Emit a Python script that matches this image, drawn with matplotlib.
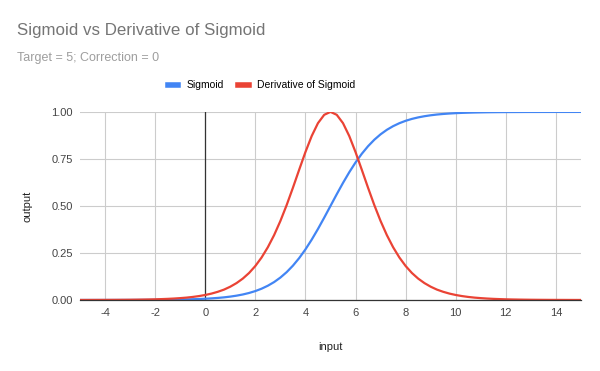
import matplotlib.pyplot as plt
import numpy as np

plt.rcParams["font.family"] = ["Liberation Sans", "DejaVu Sans"]
plt.rcParams["axes.unicode_minus"] = False

# input runs from -5 to 15 in steps of 0.25
inputs = np.arange(-5.0, 15.0 + 0.125, 0.25)
sigmoid = [
    0.0000, 0.0001, 0.0001, 0.0001, 0.0001, 0.0002, 0.0002, 0.0003, 0.0003, 0.0004,
    0.0006, 0.0007, 0.0009, 0.0012, 0.0015, 0.0019, 0.0025, 0.0032, 0.0041, 0.0052,
    0.0067, 0.0086, 0.0110, 0.0140, 0.0180, 0.0230, 0.0293, 0.0373, 0.0474, 0.0601,
    0.0759, 0.0953, 0.1192, 0.1480, 0.1824, 0.2227, 0.2689, 0.3208, 0.3775, 0.4378,
    0.5000,
    0.5622, 0.6225, 0.6792, 0.7311, 0.7773, 0.8176, 0.8520, 0.8808, 0.9047, 0.9241,
    0.9399, 0.9526, 0.9627, 0.9707, 0.9770, 0.9820, 0.9860, 0.9890, 0.9914, 0.9933,
    0.9948, 0.9959, 0.9968, 0.9975, 0.9981, 0.9985, 0.9988, 0.9991, 0.9993, 0.9994,
    0.9996, 0.9997, 0.9997, 0.9998, 0.9998, 0.9999, 0.9999, 0.9999, 0.9999, 1.0000,
]
derivative = [
    0.0002, 0.0002, 0.0003, 0.0004, 0.0005, 0.0006, 0.0008, 0.0010, 0.0013, 0.0017,
    0.0022, 0.0028, 0.0036, 0.0047, 0.0060, 0.0077, 0.0099, 0.0126, 0.0162, 0.0208,
    0.0266, 0.0340, 0.0435, 0.0552, 0.0707, 0.0899, 0.1138, 0.1436, 0.1807, 0.2260,
    0.2806, 0.3450, 0.4200, 0.5044, 0.5966, 0.6924, 0.7864, 0.8716, 0.9401, 0.9845,
    1.0000,
    0.9845, 0.9401, 0.8716, 0.7864, 0.6924, 0.5966, 0.5044, 0.4200, 0.3450, 0.2806,
    0.2260, 0.1807, 0.1436, 0.1138, 0.0899, 0.0707, 0.0552, 0.0435, 0.0340, 0.0266,
    0.0208, 0.0162, 0.0126, 0.0099, 0.0077, 0.0060, 0.0047, 0.0036, 0.0028, 0.0022,
    0.0017, 0.0013, 0.0010, 0.0008, 0.0006, 0.0005, 0.0004, 0.0003, 0.0002, 0.0002,
]
x_ticks = [-4, -2, 0, 2, 4, 6, 8, 10, 12, 14]
y_ticks = [0.0, 0.25, 0.5, 0.75, 1.0]

fig = plt.figure(figsize=(6, 3.71), dpi=100)
ax = fig.add_axes([0.1333, 0.1914, 0.835, 0.507])

ax.plot(inputs, sigmoid, color="#4285F4", linewidth=1.6, label="Sigmoid",
        solid_joinstyle="round", zorder=3)
ax.plot(inputs, derivative, color="#EA4335", linewidth=1.6,
        label="Derivative of Sigmoid", solid_joinstyle="round", zorder=3)

ax.set_xlim(-5, 15)
ax.set_ylim(0, 1)
ax.set_xticks(x_ticks)
ax.set_yticks(y_ticks)
ax.set_yticklabels([f"{v:.2f}" for v in y_ticks])
ax.tick_params(length=0, labelsize=8, colors="#444444")
ax.tick_params(axis="x", pad=6)
ax.tick_params(axis="y", pad=5)
ax.grid(True, color="#cccccc", linewidth=0.8, zorder=0)
ax.axvline(0, color="#333333", linewidth=0.9, zorder=2)
for side in ["top", "right", "left"]:
    ax.spines[side].set_visible(False)
ax.spines["bottom"].set_color("#333333")
ax.spines["bottom"].set_linewidth(0.9)
ax.spines["bottom"].set_zorder(4)

ax.set_xlabel("input", fontsize=8, color="#222222", labelpad=17)
ax.set_ylabel("output", fontsize=8, color="#222222", labelpad=14)

fig.text(17 / 600, 1 - 31 / 371, "Sigmoid vs Derivative of Sigmoid",
         fontsize=12.2, color="#757575", va="center")
fig.text(17 / 600, 1 - 58 / 371, "Target = 5; Correction = 0",
         fontsize=9, color="#9e9e9e", va="center")

leg = fig.legend(loc="center", bbox_to_anchor=(0.436, 1 - 85 / 371), ncol=2,
                 frameon=False, fontsize=7.5, handlelength=1.0, handleheight=0.5,
                 columnspacing=1.4, handletextpad=0.8)
for line in leg.get_lines():
    line.set_linewidth(4)

fig.savefig("out.png", dpi=100)
